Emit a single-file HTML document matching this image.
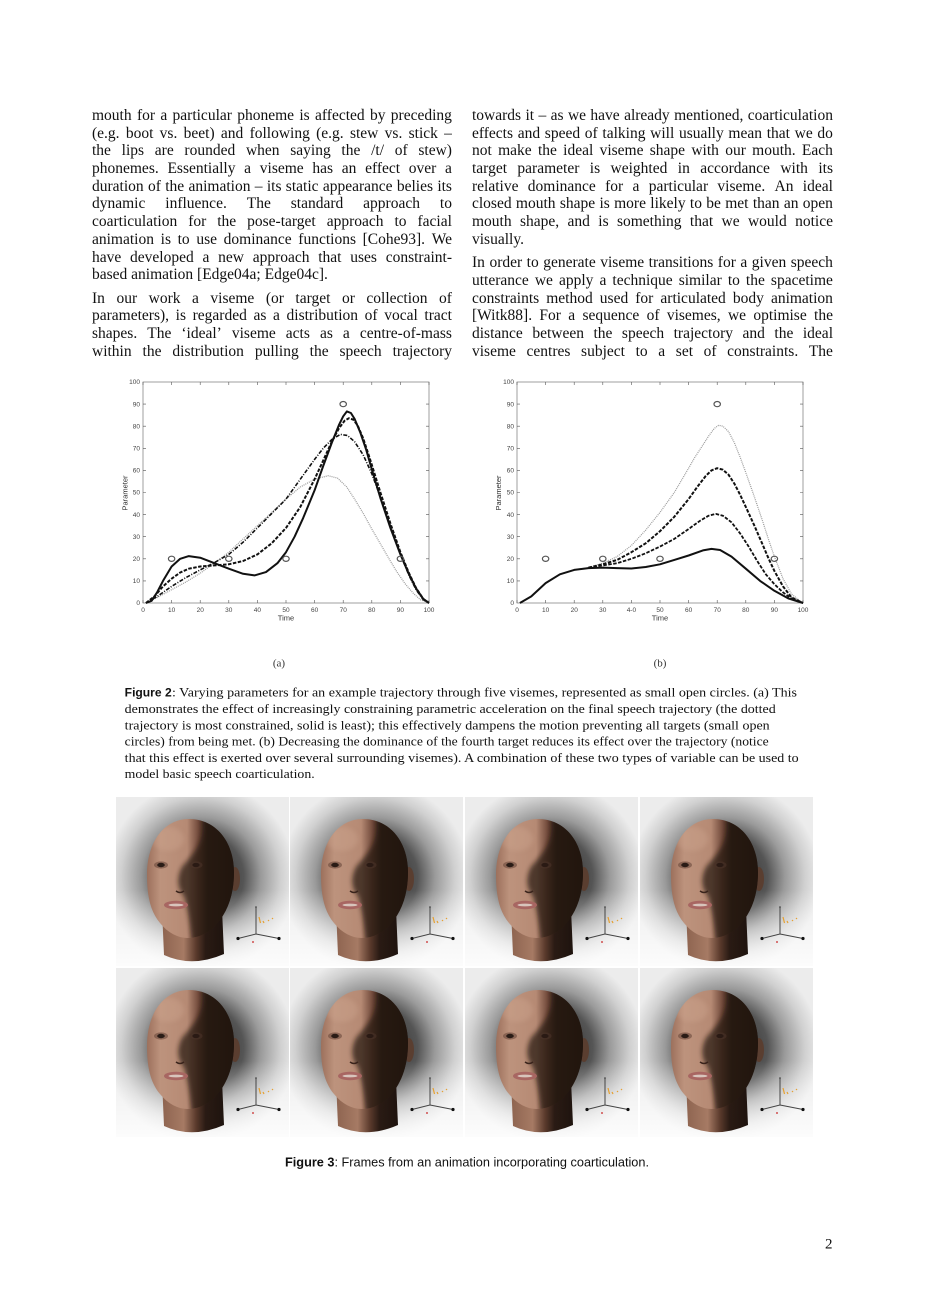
<!DOCTYPE html>
<html>
<head>
<meta charset="utf-8">
<style>
html,body{margin:0;padding:0;background:#fff;}
body{position:relative;width:925px;height:1308px;overflow:hidden;}
svg{display:block;position:absolute;left:0;top:0;}
.l{position:absolute;display:flex;justify-content:space-between;column-gap:2px;white-space:nowrap;font-family:"Liberation Serif",serif;font-size:15.5px;line-height:17.7px;height:17.7px;color:#111;}
.p{position:absolute;white-space:nowrap;font-family:"Liberation Serif",serif;font-size:15.5px;line-height:17.7px;height:17.7px;color:#111;}
.L{left:92px;width:360px;}
.R{left:472px;width:361px;}
.c{font-family:"Liberation Serif",serif;font-size:13px;fill:#111;}
.cf{font-family:"Liberation Sans",sans-serif;font-size:12px;font-weight:bold;fill:#111;}
.t{font-family:"Liberation Sans",sans-serif;font-size:6.5px;fill:#444;}
.al{font-family:"Liberation Sans",sans-serif;font-size:7.5px;fill:#333;}
.sub{font-family:"Liberation Serif",serif;font-size:11px;fill:#333;}
.f3{font-family:"Liberation Sans",sans-serif;font-size:12.5px;fill:#111;}
.b{font-family:"Liberation Serif",serif;font-size:15px;fill:#111;}
</style>
</head>
<body>
<svg width="925" height="1308" viewBox="0 0 925 1308" xmlns="http://www.w3.org/2000/svg">
<defs>
  <radialGradient id="bg" gradientUnits="userSpaceOnUse" cx="85" cy="80" r="95">
    <stop offset="0" stop-color="#222"/>
    <stop offset="0.45" stop-color="#555"/>
    <stop offset="0.63" stop-color="#9a9a9a"/>
    <stop offset="0.84" stop-color="#d0d0d0"/>
    <stop offset="1" stop-color="#ececec"/>
  </radialGradient>
  <linearGradient id="fade" x1="0" y1="0" x2="0" y2="1">
    <stop offset="0.55" stop-color="#fff" stop-opacity="0"/>
    <stop offset="1" stop-color="#fff" stop-opacity="0.85"/>
  </linearGradient>
  <linearGradient id="skin" gradientUnits="userSpaceOnUse" x1="31" y1="0" x2="120" y2="0">
    <stop offset="0" stop-color="#9c705c"/>
    <stop offset="0.15" stop-color="#bd937d"/>
    <stop offset="0.45" stop-color="#b68a74"/>
    <stop offset="0.58" stop-color="#70493a"/>
    <stop offset="0.68" stop-color="#36241c"/>
    <stop offset="1" stop-color="#22150f"/>
  </linearGradient>
  <linearGradient id="neck" gradientUnits="userSpaceOnUse" x1="46" y1="0" x2="108" y2="0">
    <stop offset="0" stop-color="#8e6450"/>
    <stop offset="0.35" stop-color="#a67a64"/>
    <stop offset="0.55" stop-color="#5a3a2c"/>
    <stop offset="0.7" stop-color="#2a1b14"/>
    <stop offset="1" stop-color="#1e130e"/>
  </linearGradient>
  <filter id="blur" x="-20%" y="-20%" width="140%" height="140%"><feGaussianBlur stdDeviation="2.5"/></filter>
  <clipPath id="hc"><path d="M73 22 C100 22 118 45 118 75 C118 100 110 118 98 130 C90 138 80 141 72 141 C62 141 52 136 44 126 C34 114 31 98 31 78 C31 45 48 22 73 22 Z"/></clipPath>
  <g id="tile">
    <rect width="173" height="169" fill="url(#bg)"/>
    <rect width="173" height="169" fill="url(#fade)"/>
    <path d="M46 112 L48 158 Q76 171 108 157 L106 112 Z" fill="url(#neck)"/>
    <ellipse cx="119" cy="82" rx="5" ry="12" fill="#5a3e30"/>
    <path d="M73 22 C100 22 118 45 118 75 C118 100 110 118 98 130 C90 138 80 141 72 141 C62 141 52 136 44 126 C34 114 31 98 31 78 C31 45 48 22 73 22 Z" fill="url(#skin)"/>
    <g clip-path="url(#hc)">
      <path d="M86 22 C90 45 76 58 66 70 C60 82 62 92 68 99 C72 112 74 126 76 145 L125 145 L125 20 Z" fill="#241710" opacity="0.7" filter="url(#blur)"/>
      <ellipse cx="52" cy="42" rx="16" ry="12" fill="#d0a892" opacity="0.35" filter="url(#blur)"/>
    </g>
    <ellipse cx="45" cy="68" rx="7" ry="3.6" fill="#6a4a3c" opacity="0.6"/>
    <ellipse cx="45" cy="68" rx="3.8" ry="2.2" fill="#2a1c16"/>
    <ellipse cx="80" cy="68" rx="6.5" ry="3.6" fill="#4a3228" opacity="0.6"/>
    <ellipse cx="80" cy="68" rx="3.6" ry="2.1" fill="#2a1a14"/>
    <path d="M60 94 Q64 97 68 94" stroke="#3a241c" stroke-width="1.5" fill="none"/>
    <ellipse cx="60" cy="108" rx="12" ry="4.2" fill="#a86662"/>
    <ellipse cx="60" cy="108" rx="7.5" ry="1.4" fill="#d8c4bc"/>
    <path d="M140 110V137L122 141.5M140 137L163 141.5" stroke="#444" stroke-width="1" fill="none"/>
    <circle cx="122" cy="141.5" r="1.6" fill="#111"/>
    <circle cx="163" cy="141.5" r="1.6" fill="#111"/>
    <circle cx="140" cy="110" r="0.8" fill="#333"/>
    <path d="M143 120l1.5 6M147 124l1 2M152 123l1 1M156 121l1 1" stroke="#e6a030" stroke-width="1.2" fill="none"/>
    <circle cx="137" cy="145" r="1" fill="#d05050"/>
  </g>
</defs>

<rect width="925" height="1308" fill="#fff"/>

<!-- Chart (a) -->
<rect x="143" y="382" width="286" height="221" fill="#fff" stroke="#777" stroke-width="0.7"/>
<path stroke="#555" stroke-width="0.6" fill="none" d="M143 603v-3M171.6 603v-3M200.2 603v-3M228.8 603v-3M257.4 603v-3M286 603v-3M314.6 603v-3M343.2 603v-3M371.8 603v-3M400.4 603v-3M429 603v-3
M143 382v3M171.6 382v3M200.2 382v3M228.8 382v3M257.4 382v3M286 382v3M314.6 382v3M343.2 382v3M371.8 382v3M400.4 382v3M429 382v3
M143 580.9h3M143 558.8h3M143 536.7h3M143 514.6h3M143 492.5h3M143 470.4h3M143 448.3h3M143 426.2h3M143 404.1h3
M429 580.9h-3M429 558.8h-3M429 536.7h-3M429 514.6h-3M429 492.5h-3M429 470.4h-3M429 448.3h-3M429 426.2h-3M429 404.1h-3"/>
<g class="t" text-anchor="end">
<text x="140" y="605.2">0</text><text x="140" y="583.1">10</text><text x="140" y="561">20</text><text x="140" y="538.9">30</text><text x="140" y="516.8">40</text><text x="140" y="494.7">50</text><text x="140" y="472.6">60</text><text x="140" y="450.5">70</text><text x="140" y="428.4">80</text><text x="140" y="406.3">90</text><text x="140" y="384.2">100</text>
</g>
<g class="t" text-anchor="middle">
<text x="143" y="612">0</text><text x="171.6" y="612">10</text><text x="200.2" y="612">20</text><text x="228.8" y="612">30</text><text x="257.4" y="612">40</text><text x="286" y="612">50</text><text x="314.6" y="612">60</text><text x="343.2" y="612">70</text><text x="371.8" y="612">80</text><text x="400.4" y="612">90</text><text x="429" y="612">100</text>
</g>
<text class="al" x="286" y="620.5" text-anchor="middle">Time</text>
<text class="al" x="0" y="0" text-anchor="middle" transform="translate(127.5 493) rotate(-90)">Parameter</text>

<g fill="none" stroke-linejoin="round" stroke-linecap="butt">
<path stroke="#999" stroke-width="1.2" stroke-dasharray="1 1" d="M145.9,603 L157.3,597.5 L171.6,589.7 L185.9,582 L200.2,573.2 L214.5,563.2 L228.8,552.2 L243.1,538.9 L257.4,525.7 L271.7,512.4 L286,499.1 L300.3,487 L314.6,479.2 L328.3,475.7 L337.5,478.1 L346.6,486.8 L354.6,499.1 L363.2,513.3 L371.8,529 L380.1,543.3 L388.4,557.7 L396.7,571.6 L405,583.6 L413.3,593.3 L420.4,599.7 L429,603"/>
<path stroke="#111" stroke-width="1.6" stroke-dasharray="4 1.5 1 1.5" d="M145.9,603 L157.3,596.4 L171.6,586.4 L185.9,577.6 L200.2,569.9 L214.5,562.6 L228.8,554.4 L243.1,542.2 L257.4,527.9 L271.7,513.5 L286,499.1 L300.3,479.2 L314.6,459.4 L323.2,448.3 L331.8,439.5 L340.3,434.4 L347.5,435.5 L354.6,441.7 L363.2,454.9 L371.8,473.7 L380.4,496.9 L390.4,525.7 L400.4,554.4 L409,575.4 L416.1,589.7 L423.3,599.7 L429,603"/>
<path stroke="#111" stroke-width="2" stroke-dasharray="3.5 1.5" d="M145.9,603 L154.4,596.4 L163,586.4 L171.6,578.7 L180.2,572.5 L188.8,568.7 L200.2,566.5 L214.5,565.4 L228.8,564.3 L243.1,561 L257.4,554.4 L271.7,543.3 L286,527.9 L300.3,506.9 L314.6,479.2 L323.2,460.5 L331.8,441.7 L338.9,428.4 L344.6,420.7 L348.9,418.2 L353.2,419.6 L357.5,425.1 L363.2,438.4 L370.1,459.4 L380.4,492.5 L390.4,523.4 L400.4,552.2 L409,573.2 L416.1,588 L423.3,599 L429,603"/>
<path stroke="#111" stroke-width="2" d="M145.9,603 L151.6,600.8 L157.3,592 L163,580.9 L171.6,566.5 L180.2,558.8 L188.8,556.1 L200.2,557.7 L214.5,563.2 L228.8,568.7 L243.1,573.8 L254.5,575.4 L266,572.1 L277.4,563.2 L286,552.2 L294.6,536.7 L303.2,517.9 L314.6,490.3 L323.2,466 L331.8,442.8 L338.9,425.1 L343.2,416.3 L346.9,411.4 L350.9,413 L354.6,418.9 L360.4,432.8 L366.1,449.4 L371.8,469.3 L380.4,498 L390.4,527.9 L400.4,554.4 L409,574.3 L416.1,588.6 L423.3,599 L429,603"/>
</g>
<g fill="none" stroke="#555" stroke-width="1.2">
<ellipse cx="171.6" cy="558.8" rx="3.2" ry="2.6"/><ellipse cx="228.8" cy="558.8" rx="3.2" ry="2.6"/><ellipse cx="286" cy="558.8" rx="3.2" ry="2.6"/><ellipse cx="343.2" cy="404.1" rx="3.2" ry="2.6"/><ellipse cx="400.4" cy="558.8" rx="3.2" ry="2.6"/>
</g>
<text class="sub" x="279" y="666.5" text-anchor="middle">(a)</text>

<!-- Chart (b) -->
<rect x="517" y="382" width="286" height="221" fill="#fff" stroke="#777" stroke-width="0.7"/>
<path stroke="#555" stroke-width="0.6" fill="none" d="M517 603v-3M545.6 603v-3M574.2 603v-3M602.8 603v-3M631.4 603v-3M660 603v-3M688.6 603v-3M717.2 603v-3M745.8 603v-3M774.4 603v-3M803 603v-3
M517 382v3M545.6 382v3M574.2 382v3M602.8 382v3M631.4 382v3M660 382v3M688.6 382v3M717.2 382v3M745.8 382v3M774.4 382v3M803 382v3
M517 580.9h3M517 558.8h3M517 536.7h3M517 514.6h3M517 492.5h3M517 470.4h3M517 448.3h3M517 426.2h3M517 404.1h3
M803 580.9h-3M803 558.8h-3M803 536.7h-3M803 514.6h-3M803 492.5h-3M803 470.4h-3M803 448.3h-3M803 426.2h-3M803 404.1h-3"/>
<g class="t" text-anchor="end">
<text x="514" y="605.2">0</text><text x="514" y="583.1">10</text><text x="514" y="561">20</text><text x="514" y="538.9">30</text><text x="514" y="516.8">40</text><text x="514" y="494.7">50</text><text x="514" y="472.6">60</text><text x="514" y="450.5">70</text><text x="514" y="428.4">80</text><text x="514" y="406.3">90</text><text x="514" y="384.2">100</text>
</g>
<g class="t" text-anchor="middle">
<text x="517" y="612">0</text><text x="545.6" y="612">10</text><text x="574.2" y="612">20</text><text x="602.8" y="612">30</text><text x="631.4" y="612">4-0</text><text x="660" y="612">50</text><text x="688.6" y="612">60</text><text x="717.2" y="612">70</text><text x="745.8" y="612">80</text><text x="774.4" y="612">90</text><text x="803" y="612">100</text>
</g>
<text class="al" x="660" y="620.5" text-anchor="middle">Time</text>
<text class="al" x="0" y="0" text-anchor="middle" transform="translate(501 493) rotate(-90)">Parameter</text>

<g fill="none" stroke-linejoin="round">
<path stroke="#999" stroke-width="1.2" stroke-dasharray="1 1" d="M519.9,603 L531.3,596.4 L545.6,583.1 L559.9,574.3 L574.2,569.9 L588.5,567.6 L602.8,563.2 L617.1,556.6 L631.4,545.5 L645.7,530.1 L660,512.4 L674.3,492.5 L688.6,468.2 L694.3,458.2 L702.9,445 L708.6,436.1 L714.3,428.4 L718.6,425.3 L722.9,426.2 L728.6,431.7 L734.4,442.8 L740.1,457.1 L745.8,472.6 L754.4,496.9 L763,522.3 L768.7,540 L774.4,556.6 L783,578.7 L791.6,594.2 L803,603"/>
<path stroke="#111" stroke-width="2" stroke-dasharray="3.5 1.5" d="M588.5,567.6 L602.8,564.3 L617.1,559.9 L631.4,552.2 L645.7,543.3 L660,531.2 L674.3,516.8 L688.6,499.1 L697.2,487 L705.8,475.9 L711.5,470.4 L717.2,468.2 L722.9,469.7 L728.6,474.8 L734.4,483.7 L740.1,494.7 L745.8,506.9 L754.4,525.7 L763,545.5 L768.7,558.8 L774.4,571 L783,586.4 L791.6,597.5 L803,603"/>
<path stroke="#111" stroke-width="1.8" stroke-dasharray="3.5 1.5" d="M588.5,567.6 L602.8,565.4 L617.1,563.2 L631.4,558.8 L645.7,553.3 L660,546.6 L674.3,538.9 L688.6,529 L700,520.8 L708.6,515.7 L715.8,513.9 L722.9,515.7 L731.5,522.3 L740.1,533.4 L748.7,546.6 L757.2,561 L765.8,574.3 L774.4,584.2 L783,592.4 L791.6,598.6 L803,603"/>
<path stroke="#111" stroke-width="2" d="M519.9,603 L531.3,596.4 L545.6,583.1 L559.9,574.3 L574.2,569.9 L588.5,568.1 L602.8,567.6 L617.1,568.1 L631.4,568.5 L645.7,567 L660,564.3 L674.3,559.9 L688.6,555.5 L702.9,550.4 L711.5,548.9 L720.1,550 L731.5,556.6 L745.8,568.7 L760.1,580.9 L774.4,590.8 L788.7,598.6 L803,603"/>
</g>
<g fill="none" stroke="#555" stroke-width="1.2">
<ellipse cx="545.6" cy="558.8" rx="3.2" ry="2.6"/><ellipse cx="602.8" cy="558.8" rx="3.2" ry="2.6"/><ellipse cx="660" cy="558.8" rx="3.2" ry="2.6"/><ellipse cx="717.2" cy="404.1" rx="3.2" ry="2.6"/><ellipse cx="774.4" cy="558.8" rx="3.2" ry="2.6"/>
</g>
<text class="sub" x="660" y="666.5" text-anchor="middle">(b)</text>

<!-- Figure 2 caption -->
<text class="cf" x="124.7" y="696.7" textLength="47" lengthAdjust="spacingAndGlyphs">Figure 2</text>
<text class="c" x="172" y="696.7" textLength="625" lengthAdjust="spacingAndGlyphs">: Varying parameters for an example trajectory through five visemes, represented as small open circles. (a) This</text>
<text class="c" x="124.7" y="713" textLength="651" lengthAdjust="spacingAndGlyphs">demonstrates the effect of increasingly constraining parametric acceleration on the final speech trajectory (the dotted</text>
<text class="c" x="124.7" y="729.3" textLength="645" lengthAdjust="spacingAndGlyphs">trajectory is most constrained, solid is least); this effectively dampens the motion preventing all targets (small open</text>
<text class="c" x="124.7" y="745.6" textLength="644" lengthAdjust="spacingAndGlyphs">circles) from being met. (b) Decreasing the dominance of the fourth target reduces its effect over the trajectory (notice</text>
<text class="c" x="124.7" y="761.9" textLength="674" lengthAdjust="spacingAndGlyphs">that this effect is exerted over several surrounding visemes). A combination of these two types of variable can be used to</text>
<text class="c" x="124.7" y="778.2" textLength="190" lengthAdjust="spacingAndGlyphs">model basic speech coarticulation.</text>

<!-- Figure 3 -->
<rect x="115" y="796" width="700" height="343" fill="#fff"/>
<use href="#tile" x="116" y="797"/>
<use href="#tile" x="290" y="797"/>
<use href="#tile" x="465" y="797"/>
<use href="#tile" x="640" y="797"/>
<use href="#tile" x="116" y="968"/>
<use href="#tile" x="290" y="968"/>
<use href="#tile" x="465" y="968"/>
<use href="#tile" x="640" y="968"/>

<text x="285" y="1166.5" class="f3" textLength="364" lengthAdjust="spacingAndGlyphs"><tspan font-weight="bold">Figure 3</tspan>: Frames from an animation incorporating coarticulation.</text>

<text class="b" x="825" y="1248.5">2</text>
</svg>

<!-- Left column text -->
<div class="l L" style="top:106.9px"><span>mouth</span><span>for</span><span>a</span><span>particular</span><span>phoneme</span><span>is</span><span>affected</span><span>by</span><span>preceding</span></div>
<div class="l L" style="top:124.6px"><span>(e.g.</span><span>boot</span><span>vs.</span><span>beet)</span><span>and</span><span>following</span><span>(e.g.</span><span>stew</span><span>vs.</span><span>stick</span><span>–</span></div>
<div class="l L" style="top:142.3px"><span>the</span><span>lips</span><span>are</span><span>rounded</span><span>when</span><span>saying</span><span>the</span><span>/t/</span><span>of</span><span>stew)</span></div>
<div class="l L" style="top:160.0px"><span>phonemes.</span><span>Essentially</span><span>a</span><span>viseme</span><span>has</span><span>an</span><span>effect</span><span>over</span><span>a</span></div>
<div class="l L" style="top:177.7px"><span>duration</span><span>of</span><span>the</span><span>animation</span><span>–</span><span>its</span><span>static</span><span>appearance</span><span>belies</span><span>its</span></div>
<div class="l L" style="top:195.4px"><span>dynamic</span><span>influence.</span><span>The</span><span>standard</span><span>approach</span><span>to</span></div>
<div class="l L" style="top:213.1px"><span>coarticulation</span><span>for</span><span>the</span><span>pose-target</span><span>approach</span><span>to</span><span>facial</span></div>
<div class="l L" style="top:230.8px"><span>animation</span><span>is</span><span>to</span><span>use</span><span>dominance</span><span>functions</span><span>[Cohe93].</span><span>We</span></div>
<div class="l L" style="top:248.5px"><span>have</span><span>developed</span><span>a</span><span>new</span><span>approach</span><span>that</span><span>uses</span><span>constraint-</span></div>
<div class="p L" style="top:266.2px">based animation [Edge04a; Edge04c].</div>
<div class="l L" style="top:289.7px"><span>In</span><span>our</span><span>work</span><span>a</span><span>viseme</span><span>(or</span><span>target</span><span>or</span><span>collection</span><span>of</span></div>
<div class="l L" style="top:307.4px"><span>parameters),</span><span>is</span><span>regarded</span><span>as</span><span>a</span><span>distribution</span><span>of</span><span>vocal</span><span>tract</span></div>
<div class="l L" style="top:325.1px"><span>shapes.</span><span>The</span><span>‘ideal’</span><span>viseme</span><span>acts</span><span>as</span><span>a</span><span>centre-of-mass</span></div>
<div class="l L" style="top:342.8px"><span>within</span><span>the</span><span>distribution</span><span>pulling</span><span>the</span><span>speech</span><span>trajectory</span></div>

<!-- Right column text -->
<div class="l R" style="top:106.9px"><span>towards</span><span>it</span><span>–</span><span>as</span><span>we</span><span>have</span><span>already</span><span>mentioned,</span><span>coarticulation</span></div>
<div class="l R" style="top:124.6px"><span>effects</span><span>and</span><span>speed</span><span>of</span><span>talking</span><span>will</span><span>usually</span><span>mean</span><span>that</span><span>we</span><span>do</span></div>
<div class="l R" style="top:142.3px"><span>not</span><span>make</span><span>the</span><span>ideal</span><span>viseme</span><span>shape</span><span>with</span><span>our</span><span>mouth.</span><span>Each</span></div>
<div class="l R" style="top:160.0px"><span>target</span><span>parameter</span><span>is</span><span>weighted</span><span>in</span><span>accordance</span><span>with</span><span>its</span></div>
<div class="l R" style="top:177.7px"><span>relative</span><span>dominance</span><span>for</span><span>a</span><span>particular</span><span>viseme.</span><span>An</span><span>ideal</span></div>
<div class="l R" style="top:195.4px"><span>closed</span><span>mouth</span><span>shape</span><span>is</span><span>more</span><span>likely</span><span>to</span><span>be</span><span>met</span><span>than</span><span>an</span><span>open</span></div>
<div class="l R" style="top:213.1px"><span>mouth</span><span>shape,</span><span>and</span><span>is</span><span>something</span><span>that</span><span>we</span><span>would</span><span>notice</span></div>
<div class="p R" style="top:230.8px">visually.</div>
<div class="l R" style="top:254.3px"><span>In</span><span>order</span><span>to</span><span>generate</span><span>viseme</span><span>transitions</span><span>for</span><span>a</span><span>given</span><span>speech</span></div>
<div class="l R" style="top:272.0px"><span>utterance</span><span>we</span><span>apply</span><span>a</span><span>technique</span><span>similar</span><span>to</span><span>the</span><span>spacetime</span></div>
<div class="l R" style="top:289.7px"><span>constraints</span><span>method</span><span>used</span><span>for</span><span>articulated</span><span>body</span><span>animation</span></div>
<div class="l R" style="top:307.4px"><span>[Witk88].</span><span>For</span><span>a</span><span>sequence</span><span>of</span><span>visemes,</span><span>we</span><span>optimise</span><span>the</span></div>
<div class="l R" style="top:325.1px"><span>distance</span><span>between</span><span>the</span><span>speech</span><span>trajectory</span><span>and</span><span>the</span><span>ideal</span></div>
<div class="l R" style="top:342.8px"><span>viseme</span><span>centres</span><span>subject</span><span>to</span><span>a</span><span>set</span><span>of</span><span>constraints.</span><span>The</span></div>
</body>
</html>
